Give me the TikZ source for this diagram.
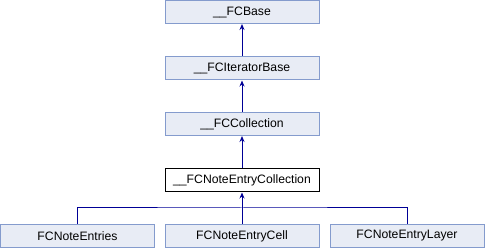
\documentclass[tikz,border=0pt]{standalone}
\usepackage{fontspec}
\setmainfont{Liberation Sans}
\usetikzlibrary{arrows.meta}
\definecolor{boxfill}{RGB}{232,236,245}
\definecolor{boxline}{RGB}{132,155,205}
\definecolor{linkblue}{RGB}{0,0,150}

\begin{document}
\begin{tikzpicture}[x=1pt,y=-1pt,
    cls/.style={draw=boxline,fill=boxfill,line width=1pt,inner sep=0pt,
      minimum width=154pt,minimum height=23pt,font=\fontsize{12.2}{14}\selectfont},
    cur/.style={cls,draw=black,fill=white},
    inh/.style={linkblue,line width=1pt,{Stealth[length=6pt,width=5pt]}-}]
  \useasboundingbox(0,0)rectangle(485,248);

  % Basisklassen
  \node[cls](base)at(242,12){\_\_FCBase};
  \node[cls](iter)at(242,68.5){\_\_FCIteratorBase};
  \node[cls](coll)at(242,124){\_\_FCCollection};
  \node[cur](nec)at(242,180.5){\_\_FCNoteEntryCollection};

  % abgeleitete Klassen
  \node[cls](entries)at(77.5,236){FCNoteEntries};
  \node[cls](cell)at(242,236){FCNoteEntryCell};
  \node[cls](layer)at(407,236){FCNoteEntryLayer};

  \draw[inh](base)--(iter);
  \draw[inh](iter)--(coll);
  \draw[inh](coll)--(nec);

  \coordinate(bus)at(242,208);%Verzweigung
  \draw[inh](nec)--(cell);
  \draw[linkblue,line width=1pt](entries.north)|-(bus)-|(layer.north);
\end{tikzpicture}
\end{document}
